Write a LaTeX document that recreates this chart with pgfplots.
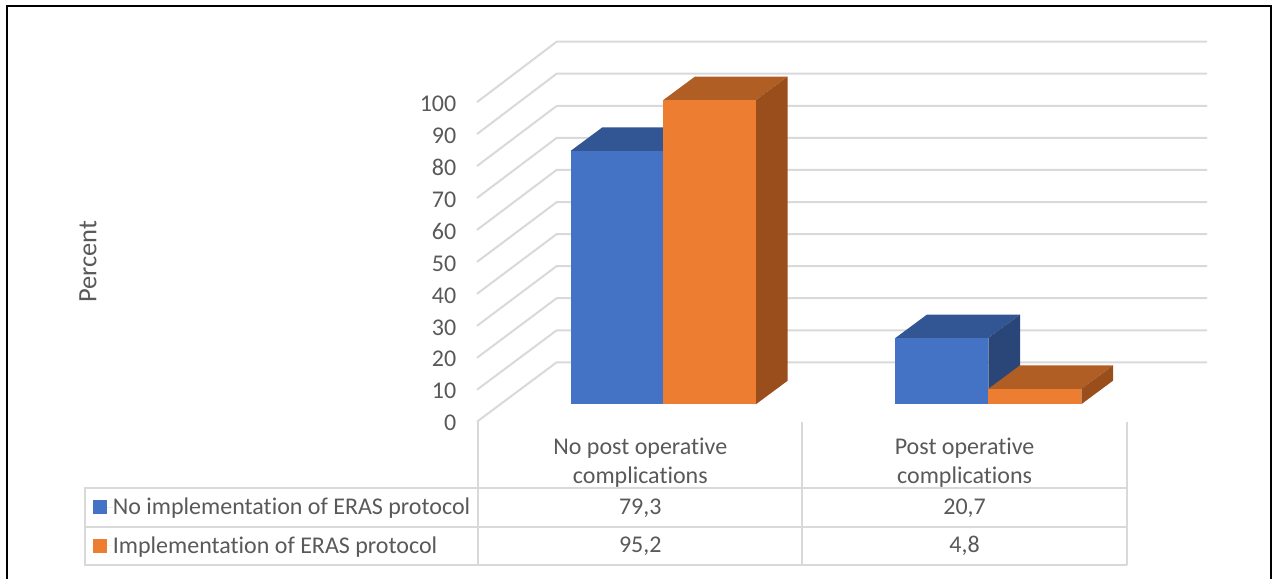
\documentclass[border=0pt]{standalone}
\usepackage{fontspec}
\setmainfont{Carlito}[Ligatures=NoCommon]
\usepackage{pgfplots}
\pgfplotsset{compat=1.18}

\definecolor{gridgray}{HTML}{D9D9D9}
\definecolor{labelgray}{HTML}{595959}
\definecolor{blueFront}{HTML}{4472C4}
\definecolor{blueTop}{HTML}{325593}
\definecolor{blueSide}{HTML}{2A4678}
\definecolor{orangeFront}{HTML}{ED7D31}
\definecolor{orangeTop}{HTML}{B15E24}
\definecolor{orangeSide}{HTML}{9A4E1C}

\newcommand{\chartfont}{\fontsize{24}{29}\selectfont}

\begin{document}
\begin{tikzpicture}[every node/.style={text=labelgray}]
\path[use as bounding box] (0,0) rectangle (1274pt,579pt);

% outer frame, open at the lower edge
\begin{scope}[x=1pt,y=-1pt,yshift=579pt]
  \draw[black,line width=2pt] (7,579) -- (7,6.5) -- (1270.5,6.5) -- (1270.5,579);
\end{scope}

% floor, side wall and back wall with the percent scale
\begin{axis}[
  at={(477pt,157.3pt)}, anchor=south west,
  scale only axis, width=730pt, height=319.6pt,
  xmin=477, xmax=1207, ymin=0, ymax=100,
  clip=false,
  axis line style={draw=none},
  xtick=\empty,
  ytick pos=left,
  ytick={0,10,...,100},
  major tick length=0pt,
  ytick style={draw=none},
  /pgf/number format/assume math mode=true,
  yticklabel style={font=\chartfont, text=labelgray, inner sep=0pt, xshift=-20.5pt, yshift=-1.5pt},
  ylabel={Percent},
  ylabel style={at={(axis description cs:-0.533,0.5)}, anchor=center,
    font=\fontsize{26.5}{30}\selectfont, text=labelgray},
]
\addplot[gridgray,line width=2pt] coordinates {(477,0)(556.7,18.6)(1207,18.6)};
\addplot[gridgray,line width=2pt] coordinates {(477,10)(556.7,28.6)(1207,28.6)};
\addplot[gridgray,line width=2pt] coordinates {(477,20)(556.7,38.65)(1207,38.65)};
\addplot[gridgray,line width=2pt] coordinates {(477,30)(556.7,48.7)(1207,48.7)};
\addplot[gridgray,line width=2pt] coordinates {(477,40)(556.7,58.7)(1207,58.7)};
\addplot[gridgray,line width=2pt] coordinates {(477,50)(556.7,68.7)(1207,68.7)};
\addplot[gridgray,line width=2pt] coordinates {(477,60)(556.7,78.8)(1207,78.8)};
\addplot[gridgray,line width=2pt] coordinates {(477,70)(556.7,88.8)(1207,88.8)};
\addplot[gridgray,line width=2pt] coordinates {(477,80)(556.7,98.8)(1207,98.8)};
\addplot[gridgray,line width=2pt] coordinates {(477,90)(556.7,108.9)(1207,108.9)};
\addplot[gridgray,line width=2pt] coordinates {(477,100)(556.7,118.9)(1207,118.9)};
\end{axis}

% data table below the plot
\begin{scope}[x=1pt,y=-1pt,yshift=579pt]
  \draw[gridgray,line width=2pt]
    (84.5,488.3) -- (1127,488.3)
    (84.5,526.5) -- (1127,526.5)
    (84.5,564.7) -- (1127,564.7)
    (84.5,487.3) -- (84.5,565.7)
    (477.7,421.7) -- (477.7,564.7)
    (802.4,421.7) -- (802.4,564.7)
    (1127,421.7) -- (1127,564.7);
  \node[font=\chartfont,align=center] at (640.3,462.3) {No post operative\\complications};
  \node[font=\chartfont,align=center] at (964.6,462.3) {Post operative\\complications};
  \node[font=\chartfont,anchor=base] at (640.3,514) {79,3};
  \node[font=\chartfont,anchor=base] at (964.6,514) {20,7};
  \node[font=\chartfont,anchor=base] at (640.3,552) {95,2};
  \node[font=\chartfont,anchor=base] at (964.6,552) {4,8};
\end{scope}

% bars: x in canvas units, y in percent; each bar has a top, a side and a front face
\begin{axis}[
  at={(477pt,174.8pt)}, anchor=south west,
  scale only axis, width=730pt, height=319.5pt,
  xmin=477, xmax=1207, ymin=0, ymax=100,
  clip=false,
  hide axis,
  legend cell align=left,
  legend style={at={(-0.5255,-0.2940)}, anchor=north west, draw=none, fill=none,
    font=\chartfont, text=labelgray, inner sep=0pt, outer sep=0pt, row sep=20.5pt,
    nodes={inner sep=0pt}},
  legend image code/.code={\fill[#1] (0pt,-7pt) rectangle (14pt,7pt);\path (0pt,0pt) -- (19.5pt,0pt);},
]
% No implementation of ERAS protocol, first category
\addplot[fill=blueTop,draw=none,forget plot] coordinates {(570.7,79.3)(663.3,79.3)(695,86.66)(602.4,86.66)} --cycle;
\addplot[fill=blueSide,draw=none,forget plot] coordinates {(663.3,0)(695,7.36)(695,86.66)(663.3,79.3)} --cycle;
\addplot[fill=blueFront,draw=none] coordinates {(570.7,0)(663.3,0)(663.3,79.3)(570.7,79.3)} --cycle;
\addlegendentry{No implementation of ERAS protocol}
% Implementation of ERAS protocol, first category
\addplot[fill=orangeTop,draw=none,forget plot] coordinates {(663.3,95.2)(756,95.2)(787.7,102.56)(695,102.56)} --cycle;
\addplot[fill=orangeSide,draw=none,forget plot] coordinates {(756,0)(787.7,7.36)(787.7,102.56)(756,95.2)} --cycle;
\addplot[fill=orangeFront,draw=none] coordinates {(663.3,0)(756,0)(756,95.2)(663.3,95.2)} --cycle;
\addlegendentry{Implementation of ERAS protocol}
% No implementation of ERAS protocol, second category
\addplot[fill=blueTop,draw=none,forget plot] coordinates {(895.3,20.7)(988.3,20.7)(1020,28.06)(927,28.06)} --cycle;
\addplot[fill=blueSide,draw=none,forget plot] coordinates {(988.3,0)(1020,7.36)(1020,28.06)(988.3,20.7)} --cycle;
\addplot[fill=blueFront,draw=none,forget plot] coordinates {(895.3,0)(988.3,0)(988.3,20.7)(895.3,20.7)} --cycle;
% Implementation of ERAS protocol, second category
\addplot[fill=orangeTop,draw=none,forget plot] coordinates {(988.3,4.8)(1081.3,4.8)(1113,12.16)(1020,12.16)} --cycle;
\addplot[fill=orangeSide,draw=none,forget plot] coordinates {(1081.3,0)(1113,7.36)(1113,12.16)(1081.3,4.8)} --cycle;
\addplot[fill=orangeFront,draw=none,forget plot] coordinates {(988.3,0)(1081.3,0)(1081.3,4.8)(988.3,4.8)} --cycle;
\end{axis}
\end{tikzpicture}
\end{document}
